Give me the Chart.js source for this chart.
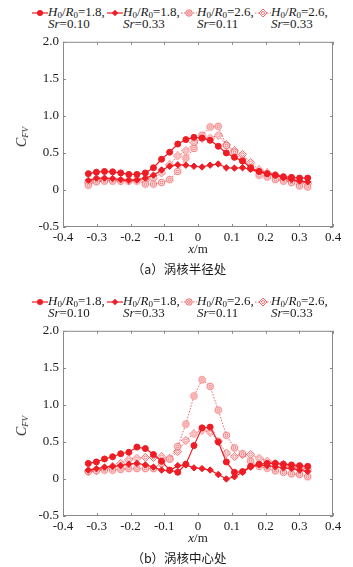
<!DOCTYPE html>
<html>
<head>
<meta charset="utf-8">
<script src="https://cdn.jsdelivr.net/npm/chart.js@4.4.1/dist/chart.umd.min.js"></script>
<style>
  body { margin: 0; background: #fff; width: 353px; height: 567px; position: relative; overflow: hidden;
         font-family: "Liberation Serif", "Times New Roman", serif; color: #1a1a1a; }
  .panel { position: absolute; left: 0; width: 353px; height: 289px; }
  .panel canvas { position: absolute; left: 0; top: 30px; }
  .legend { position: absolute; top: 6px; left: 0; width: 353px; height: 26px; font-size: 13px; }
  .item { position: absolute; top: 0; display: flex; align-items: flex-start; }
  .item svg { margin-top: 2px; }
  .item .txt { line-height: 11.5px; white-space: nowrap; }
  .ylab { position: absolute; left: 22px; top: 137px; font-size: 14px; transform: translate(-50%, -50%) rotate(-90deg); white-space: nowrap; }
  .xlab { position: absolute; left: 198px; top: 249px; font-size: 13px; transform: translate(-50%, -50%); }
  .cap { position: absolute; left: 179px; top: 268px; font-size: 12.5px; transform: translate(-50%, -50%);
         font-family: "Noto Sans CJK SC", sans-serif; white-space: nowrap; }
  sub { font-size: 9px; vertical-align: -2px; line-height: 0; }
</style>
</head>
<body>
<div class="panel" id="pa">
  <div class="legend"></div>
  <canvas id="ca" width="353" height="227"></canvas>
  <div class="ylab"><i>C</i><sub><i>FV</i></sub></div>
  <div class="xlab"><i>x</i>/m</div>
  <div class="cap">（a）涡核半径处</div>
</div>
<div class="panel" id="pb" style="top:289px">
  <div class="legend"></div>
  <canvas id="cb" width="353" height="227"></canvas>
  <div class="ylab"><i>C</i><sub><i>FV</i></sub></div>
  <div class="xlab"><i>x</i>/m</div>
  <div class="cap">（b）涡核中心处</div>
</div>
<script>
// measuring positions x (m)
const xPos = [-0.325, -0.301, -0.277, -0.253, -0.229, -0.205, -0.181, -0.156, -0.132, -0.108,
              -0.084, -0.060, -0.036, -0.012, 0.012, 0.036, 0.060, 0.084, 0.108, 0.132,
              0.156, 0.181, 0.205, 0.229, 0.253, 0.277, 0.301, 0.325];

// legend text
const ratioH = ['1.8', '1.8', '2.6', '2.6'];
const srVals = ['0.10', '0.33', '0.11', '0.33'];

// (a) vortex core radius
const a1 = [0.22, 0.24, 0.25, 0.245, 0.23, 0.21, 0.21, 0.23, 0.30, 0.415, 0.51, 0.62, 0.68, 0.71,
            0.70, 0.67, 0.59, 0.50, 0.44, 0.39, 0.30, 0.25, 0.22, 0.20, 0.18, 0.17, 0.16, 0.16];
const a2 = [0.13, 0.16, 0.16, 0.155, 0.14, 0.13, 0.135, 0.16, 0.20, 0.27, 0.32, 0.34, 0.335, 0.32,
            0.31, 0.335, 0.35, 0.30, 0.295, 0.30, 0.28, 0.245, 0.22, 0.20, 0.165, 0.14, 0.12, 0.11];
const a3 = [0.065, 0.11, 0.12, 0.12, 0.12, 0.12, 0.12, 0.08, 0.08, 0.10, 0.14, 0.25, 0.43, 0.56,
            0.74, 0.85, 0.86, 0.60, 0.51, 0.40, 0.29, 0.20, 0.175, 0.14, 0.12, 0.10, 0.055, 0.04];
const a4 = [0.10, 0.13, 0.135, 0.135, 0.13, 0.13, 0.135, 0.13, 0.16, 0.23, 0.34, 0.46, 0.53, 0.64,
            0.70, 0.70, 0.74, 0.61, 0.53, 0.48, 0.37, 0.27, 0.23, 0.20, 0.15, 0.13, 0.11, 0.09];

// (b) vortex core centre
const b1 = [0.21, 0.23, 0.27, 0.30, 0.34, 0.36, 0.43, 0.41, 0.33, 0.24, 0.12, 0.09, 0.20, 0.45,
            0.69, 0.70, 0.50, 0.23, 0.09, 0.10, 0.17, 0.20, 0.21, 0.21, 0.20, 0.19, 0.18, 0.17];
const b2 = [0.12, 0.14, 0.16, 0.17, 0.18, 0.20, 0.21, 0.19, 0.16, 0.12, 0.11, 0.18, 0.19, 0.15,
            0.14, 0.12, 0.06, 0.0, 0.03, 0.09, 0.16, 0.19, 0.18, 0.165, 0.15, 0.14, 0.12, 0.10];
const b3 = [0.10, 0.11, 0.12, 0.12, 0.13, 0.14, 0.14, 0.14, 0.14, 0.21, 0.27, 0.44, 0.74, 1.12,
            1.34, 1.25, 0.93, 0.59, 0.42, 0.34, 0.24, 0.17, 0.145, 0.11, 0.09, 0.07, 0.06, 0.03];
const b4 = [0.10, 0.12, 0.14, 0.17, 0.21, 0.26, 0.28, 0.29, 0.29, 0.30, 0.27, 0.37, 0.52, 0.61,
            0.66, 0.63, 0.51, 0.35, 0.30, 0.33, 0.33, 0.28, 0.24, 0.21, 0.19, 0.17, 0.15, 0.13];

const RED = '#ee1c24';
const PINK = 'rgba(238,40,45,0.9)';

// small marker images for the hollow symbols (outer shape + inner shape)
function hollow(kind) {
  const c = document.createElement('canvas');
  c.width = 9; c.height = 9;
  const g = c.getContext('2d');
  g.strokeStyle = PINK; g.lineWidth = 0.8; g.fillStyle = '#fff';
  if (kind === 'circle') {
    g.beginPath(); g.arc(4.5, 4.5, 3.2, 0, Math.PI * 2); g.fill(); g.stroke();
    g.beginPath(); g.arc(4.5, 4.5, 1.4, 0, Math.PI * 2); g.stroke();
  } else {
    g.beginPath(); g.moveTo(4.5, 0.5); g.lineTo(8.5, 4.5); g.lineTo(4.5, 8.5); g.lineTo(0.5, 4.5); g.closePath(); g.fill(); g.stroke();
    g.beginPath(); g.moveTo(4.5, 2.7); g.lineTo(6.3, 4.5); g.lineTo(4.5, 6.3); g.lineTo(2.7, 4.5); g.closePath(); g.stroke();
  }
  return c;
}
const openCircle = hollow('circle');
const openDiamond = hollow('diamond');

const styles = [
  { pointStyle: 'circle', pointRadius: 3, pointBackgroundColor: RED, pointBorderColor: RED, borderColor: RED, borderWidth: 1.2, borderDash: [] },
  { pointStyle: 'rectRot', pointRadius: 3.2, pointBackgroundColor: RED, pointBorderColor: RED, borderColor: RED, borderWidth: 1.2, borderDash: [] },
  { pointStyle: openCircle, pointRadius: 4, borderColor: PINK, borderWidth: 0.8, borderDash: [1.5, 1.5] },
  { pointStyle: openDiamond, pointRadius: 4, borderColor: PINK, borderWidth: 0.8, borderDash: [1.5, 1.5] }
];

function fmt(v) {
  const r = Math.round(v * 10) / 10;
  return r === 0 ? '0' : r.toFixed(1);
}

// box around the plot with inward tick marks on all four sides
const frame = {
  id: 'frame',
  afterDraw(c) {
    const { ctx, chartArea: a, scales } = c;
    const x = scales.x, y = scales.y;
    ctx.save();
    ctx.strokeStyle = '#8a8a8a';
    ctx.lineWidth = 1;
    ctx.strokeRect(a.left + 0.5, a.top + 0.5, a.right - a.left - 1, a.bottom - a.top - 1);
    ctx.beginPath();
    x.ticks.forEach(t => {
      const px = Math.round(x.getPixelForValue(t.value)) + 0.5;
      ctx.moveTo(px, a.bottom); ctx.lineTo(px, a.bottom - 3);
      ctx.moveTo(px, a.top); ctx.lineTo(px, a.top + 3);
    });
    y.ticks.forEach(t => {
      const py = Math.round(y.getPixelForValue(t.value)) + 0.5;
      ctx.moveTo(a.left, py); ctx.lineTo(a.left + 3, py);
      ctx.moveTo(a.right, py); ctx.lineTo(a.right - 3, py);
    });
    ctx.stroke();
    ctx.restore();
  }
};

function makeChart(id, series) {
  const datasets = series.map((s, i) => Object.assign({
    data: s.map((v, k) => ({ x: xPos[k], y: v })),
    fill: false,
    tension: 0,
    pointBorderWidth: 1
  }, styles[i]));
  return new Chart(document.getElementById(id).getContext('2d'), {
    type: 'line',
    data: { datasets: datasets },
    options: {
      responsive: false,
      animation: false,
      devicePixelRatio: 1,
      layout: { padding: { top: 11, right: 20, bottom: 10, left: 0 } },
      plugins: { legend: { display: false }, tooltip: { enabled: false } },
      scales: {
        x: {
          type: 'linear', min: -0.4, max: 0.4,
          afterFit: s => { s.height = 20; },
          grid: { display: false, drawTicks: false, tickLength: 0 },
          border: { display: false },
          ticks: { stepSize: 0.1, padding: 3, color: '#1a1a1a', maxRotation: 0, autoSkip: false,
                   font: { family: '"Liberation Serif", serif', size: 13 }, callback: v => fmt(v) }
        },
        y: {
          min: -0.5, max: 2.0,
          afterFit: s => { s.width = 63; },
          grid: { display: false, drawTicks: false, tickLength: 0 },
          border: { display: false },
          ticks: { stepSize: 0.5, padding: 4, color: '#1a1a1a',
                   font: { family: '"Liberation Serif", serif', size: 13 }, callback: v => fmt(v) }
        }
      }
    },
    plugins: [frame]
  });
}

// HTML legend (needs italic symbols and subscripts)
const legendX = [32, 107, 181, 255];
function markerSvg(i) {
  const col = i < 2 ? RED : PINK;
  const dash = i < 2 ? '' : ' stroke-dasharray="1.5,1.5"';
  const w = i < 2 ? 1.2 : 0.8;
  let m;
  if (i === 0) m = '<circle cx="8" cy="5" r="3" fill="' + RED + '"/>';
  else if (i === 1) m = '<path d="M8 1.8 L11.2 5 L8 8.2 L4.8 5Z" fill="' + RED + '"/>';
  else if (i === 2) m = '<circle cx="8" cy="5" r="3.2" fill="#fff" stroke="' + PINK + '" stroke-width="0.8"/><circle cx="8" cy="5" r="1.4" fill="none" stroke="' + PINK + '" stroke-width="0.8"/>';
  else m = '<path d="M8 1 L12 5 L8 9 L4 5Z" fill="#fff" stroke="' + PINK + '" stroke-width="0.8"/><path d="M8 3.2 L9.8 5 L8 6.8 L6.2 5Z" fill="none" stroke="' + PINK + '" stroke-width="0.8"/>';
  return '<svg width="16" height="10"><line x1="0" y1="5" x2="16" y2="5" stroke="' + col + '" stroke-width="' + w + '"' + dash + '/>' + m + '</svg>';
}
document.querySelectorAll('.legend').forEach(el => {
  let html = '';
  for (let i = 0; i < 4; i++) {
    html += '<div class="item" style="left:' + legendX[i] + 'px">' + markerSvg(i) +
      '<div class="txt"><i>H</i><sub>0</sub>/<i>R</i><sub>0</sub>=' + ratioH[i] + ',<br><i>Sr</i>=' + srVals[i] + '</div></div>';
  }
  el.innerHTML = html;
});

function draw() {
  makeChart('ca', [a1, a2, a3, a4]);
  makeChart('cb', [b1, b2, b3, b4]);
}
if (document.fonts && document.fonts.load) {
  Promise.all([document.fonts.load('13px "Liberation Serif"'), document.fonts.load('italic 13px "Liberation Serif"')])
    .then(draw, draw);
} else {
  draw();
}
</script>
</body>
</html>
